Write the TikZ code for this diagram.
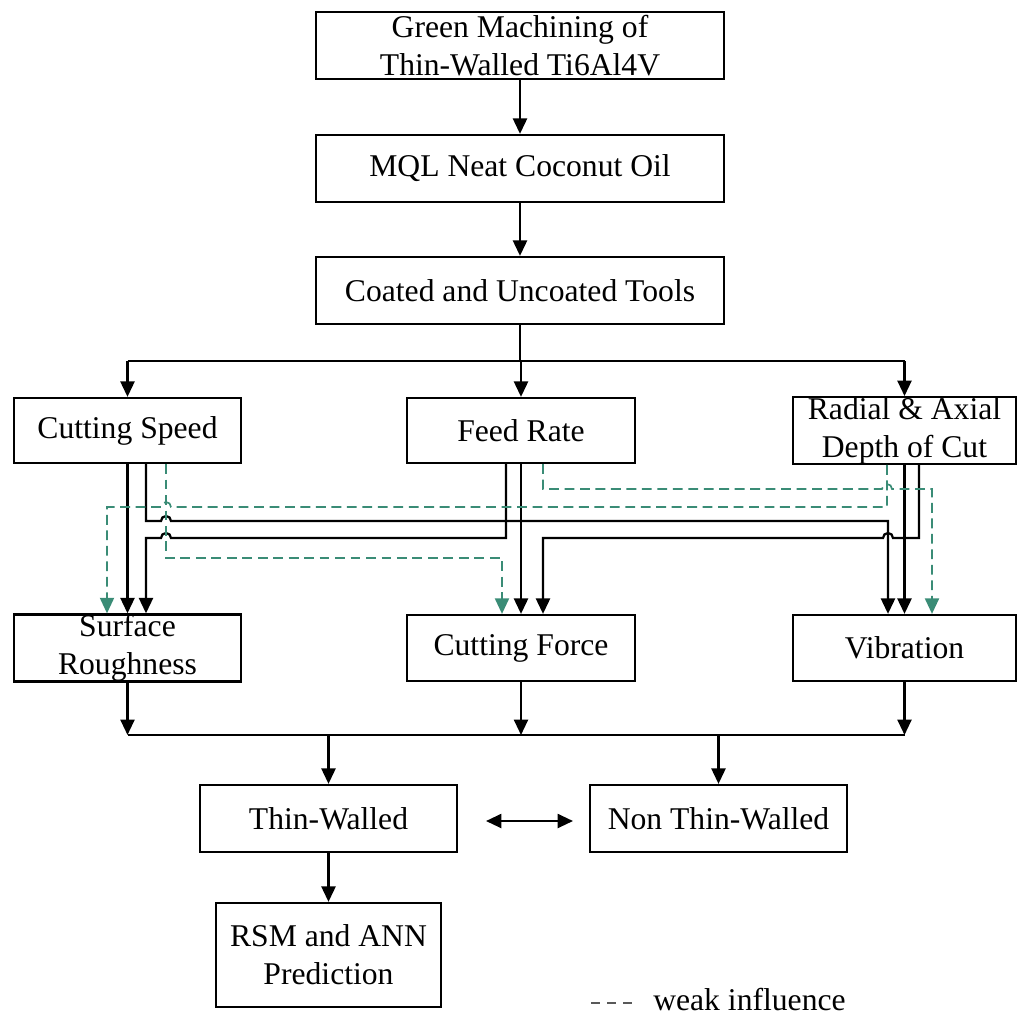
\documentclass[tikz,border=0pt]{standalone}
\usepackage{fontspec}
\setmainfont{Liberation Serif}
\usetikzlibrary{arrows.meta}
\definecolor{weakgreen}{RGB}{58,140,118}
\begin{document}
\begin{tikzpicture}[x=0.025cm,y=-0.025cm,
  box/.style={draw, line width=1.6pt, inner sep=0pt, align=center, font=\fontsize{22.5}{27}\selectfont},
  arr/.style={line width=1.6pt, -{Triangle[length=11pt,width=10pt]}},
  ln/.style={line width=1.6pt},
  weak/.style={line width=1.2pt, draw=weakgreen, dash pattern=on 7pt off 4pt, -{Triangle[length=11pt,width=10pt,fill=weakgreen]}},
]
\useasboundingbox (0,0) rectangle (1018,1021);
% boxes
\node[box, minimum width=10.2cm, minimum height=1.675cm] (B1) at (520,45.5) {Green Machining of\\Thin-Walled Ti6Al4V};
\node[box, minimum width=10.2cm, minimum height=1.675cm] (B2) at (520,168.5) {MQL Neat Coconut Oil};
\node[box, minimum width=10.2cm, minimum height=1.675cm] (B3) at (520,290.5) {Coated and Uncoated Tools};
\node[box, minimum width=5.675cm, minimum height=1.625cm] (CS) at (127.5,430.5) {Cutting Speed};
\node[box, minimum width=5.7cm, minimum height=1.625cm] (FR) at (521,430.5) {Feed Rate};
\node[box, minimum width=5.575cm, minimum height=1.625cm] (RD) at (904.5,430.5) {Radial \& Axial\\Depth of Cut};
\node[box, minimum width=5.675cm, minimum height=1.65cm] (SR) at (127.5,648) {Surface\\Roughness};
\node[box, minimum width=5.7cm, minimum height=1.65cm] (CF) at (521,648) {Cutting Force};
\node[box, minimum width=5.575cm, minimum height=1.65cm] (VB) at (904.5,648) {Vibration};
\node[box, minimum width=6.425cm, minimum height=1.675cm] (TW) at (328.5,818.5) {Thin-Walled};
\node[box, minimum width=6.425cm, minimum height=1.675cm] (NTW) at (718.5,818.5) {Non Thin-Walled};
\node[box, minimum width=5.625cm, minimum height=2.6cm] (RSM) at (328.5,955) {RSM and ANN\\Prediction};
% top chain
\draw[arr] (B1.south) -- (B2.north);
\draw[arr] (B2.south) -- (B3.north);
\draw[ln] (B3.south) -- (B3.south |- 0,361);
\draw[ln] (CS.north |- 0,361) -- (RD.north |- 0,361);
\draw[arr] (CS.north |- 0,361) -- (CS.north);
\draw[arr] (FR.north |- 0,361) -- (FR.north);
\draw[arr] (RD.north |- 0,361) -- (RD.north);
% strong influences
\draw[arr] (CS.south) -- (SR.north);
\draw[arr] (146,0 |- CS.south) -- (146,521) -- (161,521) arc[start angle=180,end angle=0,radius=0.125cm] -- (888,521) -- (888,0 |- VB.north);
\draw[arr] (506,0 |- FR.south) -- (506,538) -- (171,538) arc[start angle=0,end angle=180,radius=0.125cm] -- (146,538) -- (146,0 |- SR.north);
\draw[arr] (FR.south) -- (CF.north);
\draw[arr] (RD.south) -- (VB.north);
\draw[arr] (919,0 |- RD.south) -- (919,538) -- (893,538) arc[start angle=0,end angle=180,radius=0.125cm] -- (543,538) -- (543,0 |- CF.north);
% weak influences
\draw[weak] (166,0 |- CS.south) -- (166,558) -- (502,558) -- (502,0 |- CF.north);
\draw[weak] (887,0 |- RD.south) -- (887,507) -- (171,507) arc[start angle=0,end angle=180,radius=0.125cm] -- (107,507) -- (107,0 |- SR.north);
\draw[weak] (543,0 |- FR.south) -- (543,489) -- (882,489) arc[start angle=180,end angle=0,radius=0.125cm] -- (932,489) -- (932,0 |- VB.north);
% bottom collection
\draw[arr] (SR.south) -- (SR.south |- 0,735);
\draw[arr] (CF.south) -- (CF.south |- 0,735);
\draw[arr] (VB.south) -- (VB.south |- 0,735);
\draw[ln] (SR.south |- 0,735) -- (VB.south |- 0,735);
\draw[arr] (TW.north |- 0,735) -- (TW.north);
\draw[arr] (NTW.north |- 0,735) -- (NTW.north);
\coordinate (da1) at (486,821);
\coordinate (da2) at (573,821);
\draw[line width=1.6pt, {Triangle[length=11pt,width=10pt]}-{Triangle[length=11pt,width=10pt]}] (da1) -- (da2);
\draw[arr] (TW.south) -- (RSM.north);
% legend
\coordinate (lgA) at (591,1003);
\coordinate (lgB) at (633,1003);
\draw[line width=1pt, black!65, dash pattern=on 6.5pt off 5pt] (lgA) -- (lgB);
\node[anchor=base west, inner sep=0pt, font=\fontsize{22.5}{27}\selectfont] (lgt) at (653,1010) {weak influence};
\end{tikzpicture}
\end{document}
